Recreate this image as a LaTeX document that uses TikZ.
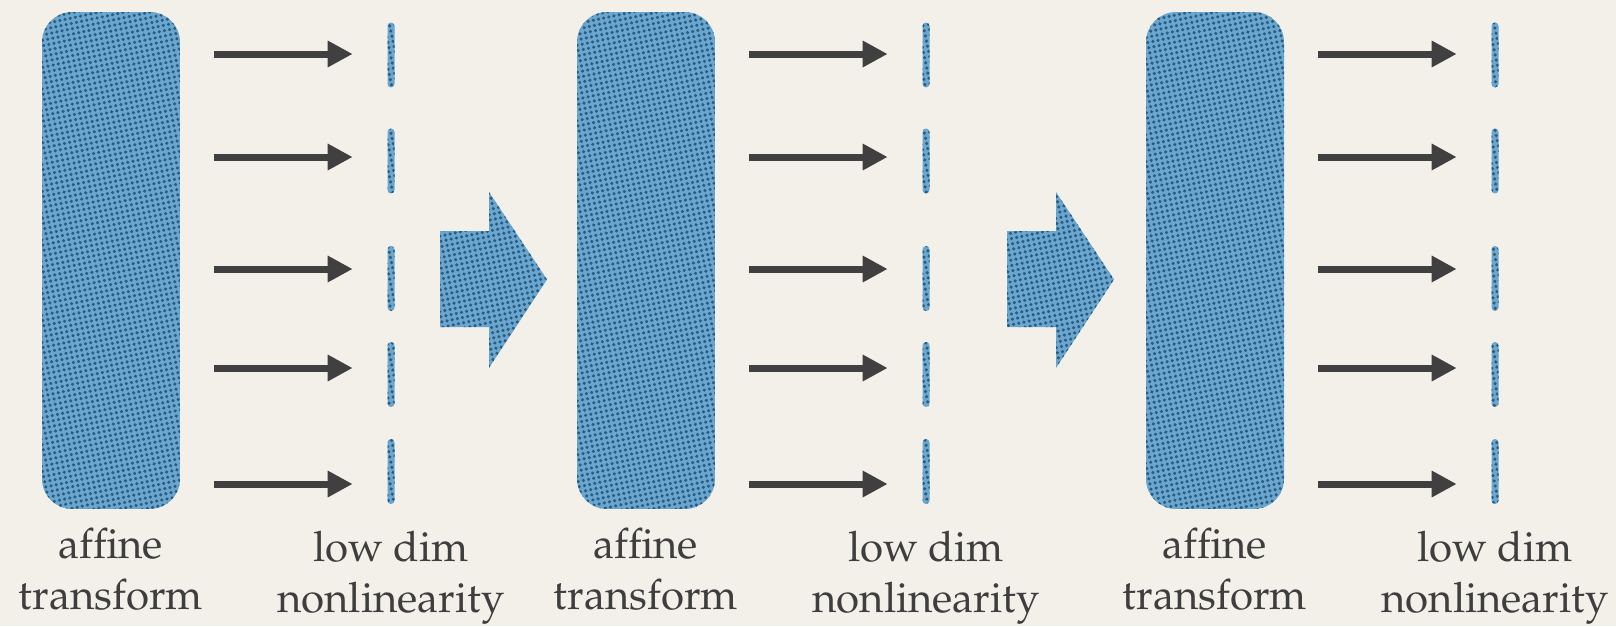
\documentclass[tikz,border=0pt]{standalone}
\usepackage[T1]{fontenc}
\usepackage{mathpazo}
\usepackage{tikz}
\usetikzlibrary{positioning, arrows.meta, patterns.meta, calc}
\definecolor{paperbg}{RGB}{243,240,234}
\definecolor{blobblue}{RGB}{106,166,206}
\definecolor{dotblue}{RGB}{40,92,130}
\definecolor{inkgray}{RGB}{62,62,62}
\definecolor{arrowgray}{RGB}{64,64,64}

\tikzdeclarepattern{
  name=halftone,
  type=uncolored,
  bounding box={(-1.5pt,-1.5pt) and (1.5pt,1.5pt)},
  tile size={(3pt,3pt)},
  tile transformation={rotate=12},
  code={\fill (0pt,0pt) circle (1pt);}
}

\begin{document}
\begin{tikzpicture}[x=0.02cm, y=-0.02cm,
  dotted fill/.style={preaction={fill=blobblue}, pattern={halftone}, pattern color=dotblue},
  affine/.style={dotted fill, inner sep=0pt, minimum width=2.76cm, minimum height=9.94cm, rounded corners=0.6cm},
  unit/.style={dotted fill, inner sep=0pt, minimum width=0.14cm, minimum height=1.3cm, rounded corners=0.07cm},
  link/.style={draw=arrowgray, line width=0.14cm, -{Triangle[length=0.5cm, width=0.5cm]}, shorten <=0.68cm, shorten >=0.69cm},
  caption/.style={text=inkgray, font=\fontsize{23.9}{28.5}\selectfont, align=center, inner sep=0pt, anchor=base}
]
% paper
\fill[paperbg] (0,0) rectangle (1616,626);

% heights of the small arrows
\foreach \i/\y in {1/54, 2/157, 3/269, 4/368, 5/484}
  \coordinate (r\i) at (0,\y);

% three layers: affine block, arrows, nonlinearity units
\foreach \c/\ax/\nx in {1/111/391, 2/646/926, 3/1215/1495} {
  \node[affine] (A\c) at (\ax,260.5) {};
  \node[caption] (TA\c) at (\ax,609) {affine\\transform};
  \foreach \i/\by in {1/55, 2/161, 3/278.5, 4/374.5, 5/471.5} {
    \node[unit] (N\c-\i) at (\nx,\by) {};
    \draw[link] (A\c.east |- r\i) -- (N\c-\i.west |- r\i);
  }
  \node[caption] (TN\c) at (\nx,612) {low dim\\nonlinearity};
}

% big arrows between layers
\foreach \d in {0, 567}
  \fill[dotted fill] (440+\d,231) -- (489+\d,231) -- (489+\d,192) -- (547+\d,279.5)
    -- (489+\d,368) -- (489+\d,327) -- (440+\d,327) -- cycle;
\end{tikzpicture}
\end{document}
